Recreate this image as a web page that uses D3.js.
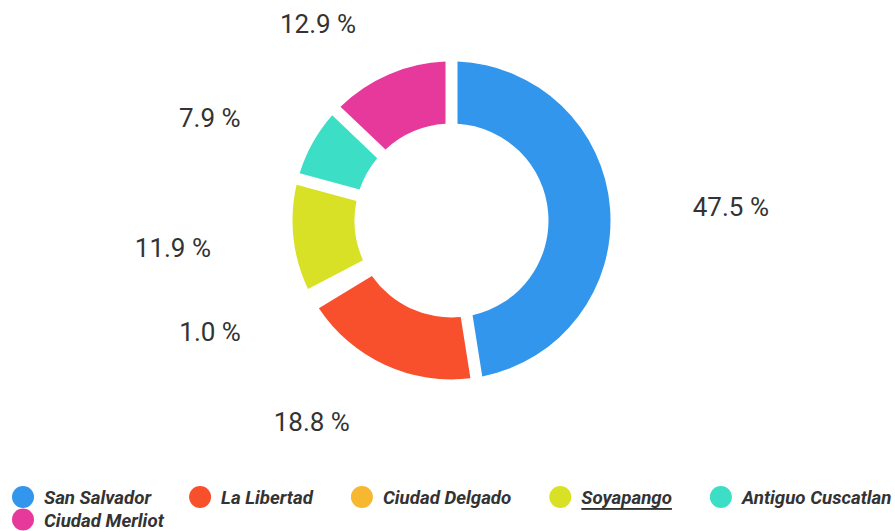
<!DOCTYPE html>
<html>
<head>
<meta charset="utf-8">
<script src="https://cdn.jsdelivr.net/npm/d3@7"></script>
<style>
  html, body { margin: 0; padding: 0; background: #fff; }
  svg { display: block; font-family: Roboto, "Noto Sans", sans-serif; }
</style>
</head>
<body>
<div id="chart"></div>
<script>
// data
const cities = ["San Salvador", "La Libertad", "Ciudad Delgado", "Soyapango", "Antiguo Cuscatlan", "Ciudad Merliot"];
const shares = [47.5, 18.8, 1.0, 11.9, 7.9, 12.9];
const colors = ["#3296ed", "#f8502c", "#f7b731", "#d8e125", "#3cdec5", "#e6399b"];
const underlined = ["Soyapango"];

// size
const width = 895;
const height = 531;

const CX = 451.5;
const CY = 220.5;
const OUTER_R = 159;
const INNER_R = 97;
const GAP = 12; // white gap between slices, px

// labels sit on an ellipse round the donut
const LABEL_RX = 242;
const LABEL_RY = 218;
const LABEL_DY = 4;

const LEGEND_Y = 497;
const LEGEND_ROW = 22.5;
const DOT_R = 11;

const svg = d3.select("#chart")
  .append("svg")
  .attr("width", width)
  .attr("height", height);

const rows = cities.map((c, i) => ({ name: c, value: shares[i], color: colors[i] }));

const pie = d3.pie()
  .value(d => d.value)
  .sort(null);

const arc = d3.arc()
  .innerRadius(INNER_R)
  .outerRadius(OUTER_R)
  .padRadius(OUTER_R)
  .padAngle(GAP / OUTER_R);

const arcs = pie(rows);

const g = svg.append("g")
  .attr("transform", `translate(${CX},${CY})`);

g.selectAll("path.slice")
  .data(arcs)
  .enter()
  .append("path")
  .attr("class", "slice")
  .attr("d", arc)
  .attr("fill", d => d.data.color);

const mid = d => (d.startAngle + d.endAngle) / 2;

// percentage labels
g.selectAll("text.pct")
  .data(arcs)
  .enter()
  .append("text")
  .attr("class", "pct")
  .attr("x", d => LABEL_RX * Math.sin(mid(d)))
  .attr("y", d => -LABEL_RY * Math.cos(mid(d)) + LABEL_DY)
  .attr("text-anchor", d => (mid(d) < Math.PI ? "start" : "end"))
  .attr("dominant-baseline", "central")
  .style("font-size", "26px")
  .style("fill", "#333")
  .text(d => d3.format(".1f")(d.data.value) + " %");

// legend, items flow left to right and wrap
const legend = svg.append("g").attr("class", "legend");
let lx = 12;
let ly = LEGEND_Y;

rows.forEach((d) => {
  const item = legend.append("g");
  item.append("circle")
    .attr("r", DOT_R)
    .attr("cx", DOT_R)
    .attr("cy", 0)
    .attr("fill", d.color);
  const txt = item.append("text")
    .attr("x", DOT_R * 2 + 10)
    .attr("y", 1)
    .attr("dominant-baseline", "central")
    .style("font-size", "18.7px")
    .style("font-weight", "bold")
    .style("font-style", "italic")
    .style("fill", "#333")
    .style("text-decoration", underlined.includes(d.name) ? "underline" : "none")
    .text(d.name);
  const w = DOT_R * 2 + 10 + txt.node().getComputedTextLength();
  if (lx + w > width) {
    lx = 12;
    ly += LEGEND_ROW;
  }
  item.attr("transform", `translate(${lx},${ly})`);
  lx += w + 38;
});
</script>
</body>
</html>
